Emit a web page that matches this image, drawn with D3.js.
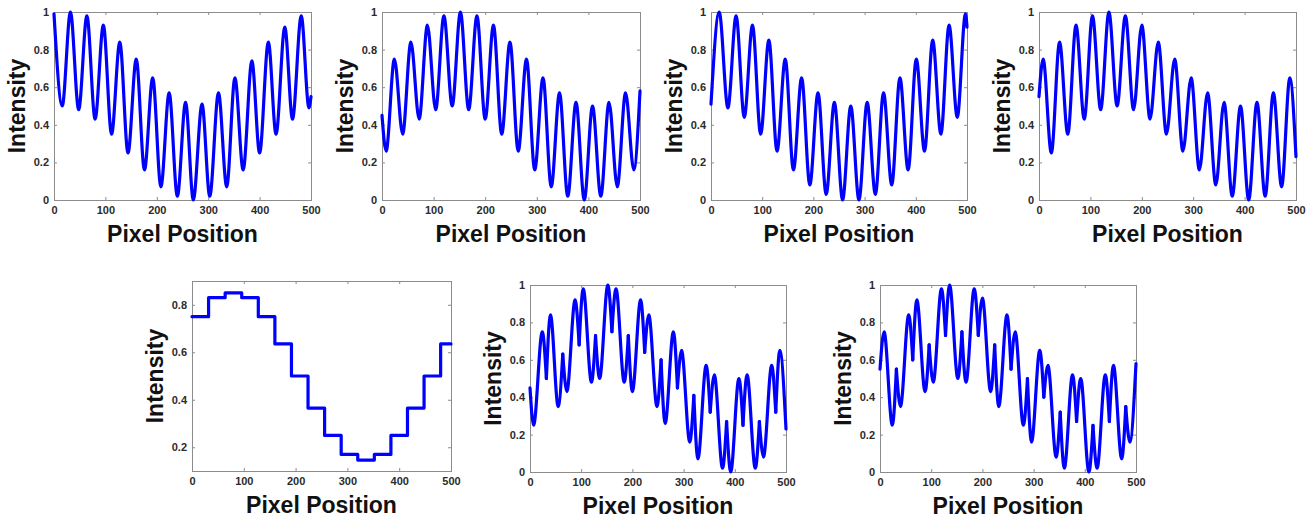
<!DOCTYPE html>
<html>
<head>
<meta charset="utf-8">
<script src="https://cdn.jsdelivr.net/npm/d3@7"></script>
<style>
  body { margin: 0; background: #fff; }
  svg { display: block; }
  .tick text { font-family: "Liberation Sans", Arial, sans-serif; font-weight: bold; font-size: 11px; fill: #2b2b2b; }
  .tick line { stroke: #8c8c8c; }
  .axis-label { font-family: "Liberation Sans", Arial, sans-serif; font-weight: bold; font-size: 23px; fill: #111; }
</style>
</head>
<body>
<div id="chart"></div>
<script>
// tick labels
var xTicks = [0, 100, 200, 300, 400, 500];
var yTicks = [0, 0.2, 0.4, 0.6, 0.8, 1];
var yTicksStep = [0.2, 0.4, 0.6, 0.8];

// peaks / troughs, [pixel position, intensity]
var sig1 = [[0, 0.99], [16, 0.50], [32, 1.00], [48, 0.48], [64, 0.98], [80, 0.43], [96, 0.93], [112, 0.35],
  [128, 0.84], [144, 0.25], [160, 0.75], [176, 0.16], [192, 0.65], [208, 0.07], [224, 0.57], [240, 0.02],
  [256, 0.52], [271, 0.00], [288, 0.51], [303, 0.02], [320, 0.57], [336, 0.07], [352, 0.65], [368, 0.16],
  [385, 0.74], [400, 0.25], [417, 0.84], [432, 0.35], [449, 0.92], [464, 0.43], [481, 0.98], [496, 0.49],
  [500, 0.55]];

var sig2 = [[0, 0.45], [8, 0.26], [24, 0.75], [40, 0.35], [56, 0.84], [72, 0.43], [88, 0.93], [104, 0.48],
  [120, 0.98], [136, 0.50], [152, 1.00], [168, 0.48], [184, 0.98], [200, 0.43], [216, 0.93], [232, 0.35],
  [248, 0.84], [264, 0.26], [280, 0.75], [296, 0.16], [312, 0.65], [328, 0.07], [344, 0.57], [360, 0.02],
  [376, 0.52], [392, 0.00], [408, 0.50], [424, 0.02], [440, 0.52], [456, 0.07], [472, 0.57], [488, 0.16],
  [500, 0.58]];

var sig3 = [[0, 0.51], [16, 1.00], [33, 0.49], [49, 0.98], [65, 0.44], [81, 0.93], [97, 0.35], [113, 0.85],
  [129, 0.26], [145, 0.75], [161, 0.16], [177, 0.65], [193, 0.08], [209, 0.57], [225, 0.03], [241, 0.52],
  [257, 0.00], [273, 0.50], [289, 0.00], [305, 0.52], [321, 0.03], [337, 0.57], [353, 0.08], [369, 0.65],
  [385, 0.16], [401, 0.75], [417, 0.26], [433, 0.85], [449, 0.35], [465, 0.93], [481, 0.44], [497, 0.99],
  [500, 0.92]];

var sig4 = [[0, 0.55], [8, 0.75], [24, 0.25], [40, 0.84], [56, 0.35], [72, 0.93], [88, 0.43], [104, 0.98],
  [120, 0.48], [136, 1.00], [152, 0.50], [168, 0.98], [184, 0.48], [200, 0.93], [216, 0.43], [232, 0.84],
  [248, 0.35], [264, 0.75], [280, 0.26], [296, 0.65], [312, 0.16], [328, 0.57], [344, 0.08], [360, 0.52],
  [376, 0.02], [392, 0.50], [408, 0.00], [424, 0.52], [440, 0.02], [456, 0.57], [472, 0.07], [488, 0.65],
  [500, 0.23]];

// step panel: start of each block and its level
var stepStart = [0, 32, 64, 96, 128, 160, 192, 224, 256, 288, 320, 352, 384, 416, 448, 480, 500];
var stepLevel = [0.75, 0.83, 0.85, 0.83, 0.75, 0.635, 0.50, 0.365, 0.25, 0.17, 0.146, 0.17, 0.25, 0.365, 0.50, 0.635, 0.635];

var sig6 = [[0, 0.45], [7, 0.25], [24, 0.75], [32, 0.50], [40, 0.84], [55, 0.35], [64, 0.63], [72, 0.43],
  [88, 0.92], [96, 0.68], [104, 0.98], [120, 0.48], [128, 0.73], [136, 0.50], [152, 1.00], [160, 0.75],
  [168, 0.98], [184, 0.48], [192, 0.73], [200, 0.43], [216, 0.92], [224, 0.64], [232, 0.84], [248, 0.35],
  [256, 0.60], [264, 0.26], [280, 0.75], [288, 0.45], [296, 0.65], [312, 0.16], [320, 0.41], [328, 0.07],
  [344, 0.57], [352, 0.32], [360, 0.52], [376, 0.02], [384, 0.27], [392, 0.00], [408, 0.50], [416, 0.25],
  [424, 0.52], [440, 0.02], [448, 0.27], [456, 0.08], [472, 0.57], [480, 0.32], [488, 0.65], [500, 0.23]];

var sig7 = [[0, 0.55], [8, 0.75], [24, 0.25], [32, 0.55], [40, 0.35], [56, 0.84], [64, 0.60], [72, 0.92],
  [88, 0.43], [96, 0.68], [104, 0.48], [120, 0.98], [128, 0.73], [136, 1.00], [152, 0.50], [160, 0.75],
  [168, 0.48], [184, 0.98], [192, 0.73], [200, 0.93], [216, 0.43], [224, 0.68], [232, 0.35], [248, 0.84],
  [256, 0.55], [264, 0.75], [280, 0.25], [288, 0.50], [296, 0.16], [312, 0.65], [320, 0.40], [328, 0.57],
  [344, 0.08], [352, 0.32], [360, 0.02], [376, 0.52], [384, 0.27], [392, 0.50], [408, 0.00], [416, 0.25],
  [424, 0.02], [440, 0.52], [448, 0.27], [456, 0.57], [472, 0.07], [480, 0.35], [488, 0.16], [500, 0.58]];

// corners where the combined signals switch source
var cuts = [32, 64, 96, 128, 160, 192, 224, 256, 288, 320, 352, 384, 416, 448, 480];

// 配置 (plot boxes)
var panels = [
  { data: sig1, left: 54, right: 311, top: 12, bottom: 200, yDomain: [0, 1], yTicks: yTicks },
  { data: sig2, left: 382, right: 640, top: 12, bottom: 200, yDomain: [0, 1], yTicks: yTicks },
  { data: sig3, left: 711, right: 967, top: 12, bottom: 200, yDomain: [0, 1], yTicks: yTicks },
  { data: sig4, left: 1039, right: 1296, top: 12, bottom: 200, yDomain: [0, 1], yTicks: yTicks },
  { data: null, left: 192, right: 451, top: 281, bottom: 471, yDomain: [0.1, 0.9], yTicks: yTicksStep },
  { data: sig6, left: 530, right: 786, top: 285, bottom: 472, yDomain: [0, 1], yTicks: yTicks, cuts: cuts },
  { data: sig7, left: 880, right: 1136, top: 285, bottom: 472, yDomain: [0, 1], yTicks: yTicks, cuts: cuts },
];

var width = 1314, height = 521;
var svg = d3.select("#chart").append("svg")
  .attr("width", width)
  .attr("height", height);

panels.forEach(function (p) {
  var x = d3.scaleLinear().domain([0, 500]).range([p.left, p.right]);
  var y = d3.scaleLinear().domain(p.yDomain).range([p.bottom, p.top]);
  var g = svg.append("g");

  // 軸 (inward ticks on all four sides)
  g.append("g").attr("transform", "translate(0," + p.bottom + ")")
    .call(d3.axisBottom(x).tickValues(xTicks).tickSize(-3).tickPadding(6).tickFormat(String))
    .call(function (s) { s.select(".domain").remove(); });
  g.append("g").attr("transform", "translate(0," + p.top + ")")
    .call(d3.axisTop(x).tickValues(xTicks).tickSize(-3).tickFormat(""))
    .call(function (s) { s.select(".domain").remove(); });
  g.append("g").attr("transform", "translate(" + p.left + ",0)")
    .call(d3.axisLeft(y).tickValues(p.yTicks).tickSize(-3).tickPadding(5).tickFormat(String))
    .call(function (s) { s.select(".domain").remove(); });
  g.append("g").attr("transform", "translate(" + p.right + ",0)")
    .call(d3.axisRight(y).tickValues(p.yTicks).tickSize(-3).tickFormat(""))
    .call(function (s) { s.select(".domain").remove(); });
  g.selectAll(".tick text").attr("font-family", null).attr("font-size", null);

  g.append("rect")
    .attr("x", p.left + 0.5).attr("y", p.top + 0.5)
    .attr("width", p.right - p.left).attr("height", p.bottom - p.top)
    .attr("fill", "none").attr("stroke", "#8c8c8c").attr("stroke-width", 1);

  // 線
  var line = d3.line()
    .x(function (d) { return x(d[0]); })
    .y(function (d) { return y(d[1]); });

  var pieces = [];
  if (p.data === null) {
    line.curve(d3.curveStepAfter);
    pieces.push(stepStart.map(function (s, i) { return [s, stepLevel[i]]; }));
  } else {
    line.curve(d3.curveMonotoneX);
    var cur = [];
    p.data.forEach(function (d) {
      cur.push(d);
      if (p.cuts && p.cuts.indexOf(d[0]) >= 0) {
        pieces.push(cur);
        cur = [d];
      }
    });
    pieces.push(cur);
  }
  pieces.forEach(function (pc) {
    g.append("path")
      .attr("d", line(pc))
      .attr("fill", "none")
      .attr("stroke", "#0000ff")
      .attr("stroke-width", 3.2)
      .attr("stroke-linejoin", "round")
      .attr("stroke-linecap", "round");
  });

  // ラベル
  g.append("text")
    .attr("class", "axis-label")
    .attr("text-anchor", "middle")
    .attr("x", (p.left + p.right) / 2)
    .attr("y", p.bottom + 42)
    .text("Pixel Position");
  g.append("text")
    .attr("class", "axis-label")
    .attr("text-anchor", "middle")
    .attr("transform", "translate(" + (p.left - 29) + "," + (p.top + p.bottom) / 2 + ") rotate(-90)")
    .text("Intensity");
});
</script>
</body>
</html>
